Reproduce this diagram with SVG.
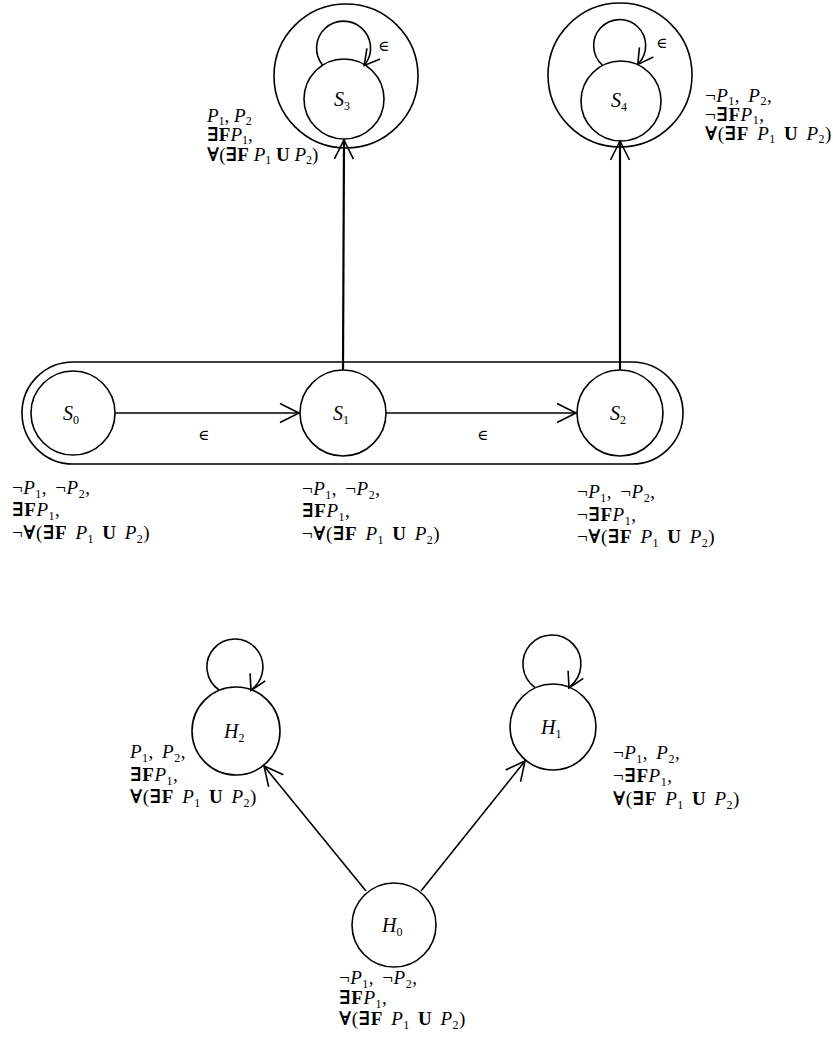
<svg xmlns="http://www.w3.org/2000/svg" width="833" height="1040" viewBox="0 0 833 1040">
<style>
  .n { fill: none; stroke: #000; stroke-width: 1.6; }
  .e { fill: none; stroke: #000; stroke-width: 1.6; }
  .ev { fill: none; stroke: #000; stroke-width: 2.2; }
  text { font-family: "Liberation Serif", "DejaVu Serif", serif; font-size: 19px; fill: #000; letter-spacing: 0.5px; word-spacing: 3px; }
  .tight text { letter-spacing: 0; word-spacing: 0; }
  .nm { font-size: 20px; letter-spacing: 0; }
  .i { font-style: italic; }
  .b { font-weight: bold; }
  .s { font-size: 12px; }
  .eps { font-size: 15px; }
</style>
<defs>
  <marker id="arr" markerUnits="userSpaceOnUse" overflow="visible" orient="auto" refX="0" refY="0" markerWidth="1" markerHeight="1">
    <path d="M-19,-9.5 L0,0 L-19,9.5" fill="none" stroke="#000" stroke-width="1.6"/>
  </marker>
  <marker id="arrL" markerUnits="userSpaceOnUse" overflow="visible" orient="auto" refX="0" refY="0" markerWidth="1" markerHeight="1">
    <path d="M-15,-8.5 L0,0 L-15,8.5" fill="none" stroke="#000" stroke-width="1.6"/>
  </marker>
</defs>
<rect width="833" height="1040" fill="#fff"/>

<g id="container">
  <rect class="n" x="22" y="362" width="661" height="102" rx="51" ry="51"/>
</g>

<g id="connectors">
  <line class="e" x1="115" y1="413" x2="299" y2="413" marker-end="url(#arr)"/>
  <line class="e" x1="386" y1="413" x2="576" y2="413" marker-end="url(#arr)"/>
  <line class="ev" x1="343" y1="370" x2="344" y2="140" marker-end="url(#arr)"/>
  <line class="ev" x1="620" y1="370" x2="620" y2="141" marker-end="url(#arr)"/>
  <path class="e" d="M322.5,65 A27,27 0 1 1 365,64.5 L364.2,65.5" marker-end="url(#arrL)"/>
  <path class="e" d="M602.4,65 A26,26 0 1 1 638.5,63.5 L637.8,64.5" marker-end="url(#arrL)"/>
  <path class="e" d="M219,690 A28,28 0 1 1 251.5,689.5 L251,690.5" marker-end="url(#arrL)"/>
  <path class="e" d="M535,687.5 A29,29 0 1 1 569.5,687 L569,688" marker-end="url(#arrL)"/>
  <line class="e" x1="366" y1="891" x2="264" y2="766" marker-end="url(#arr)"/>
  <line class="e" x1="421" y1="891" x2="525" y2="761" marker-end="url(#arr)"/>
  <text class="eps" x="198" y="440">∈</text>
  <text class="eps" x="477" y="440">∈</text>
  <text class="eps" x="378" y="51">∈</text>
  <text class="eps" x="656" y="48">∈</text>
</g>

<g id="S0">
  <circle class="n" cx="73" cy="413" r="42"/>
  <text class="nm" x="63" y="420"><tspan class="i">S</tspan><tspan class="s" dy="4">0</tspan></text>
  <text x="12" y="494">¬<tspan class="i">P</tspan><tspan class="s" dy="4">1</tspan><tspan dy="-4">, ¬</tspan><tspan class="i">P</tspan><tspan class="s" dy="4">2</tspan><tspan dy="-4">,</tspan></text>
  <text x="12" y="516"><tspan class="b">∃F</tspan><tspan class="i">P</tspan><tspan class="s" dy="4">1</tspan><tspan dy="-4">,</tspan></text>
  <text x="12" y="539">¬<tspan class="b">∀</tspan>(<tspan class="b">∃F</tspan> <tspan class="i">P</tspan><tspan class="s" dy="4">1</tspan><tspan dy="-4"> </tspan><tspan class="b">U</tspan> <tspan class="i">P</tspan><tspan class="s" dy="4">2</tspan><tspan dy="-4">)</tspan></text>
</g>

<g id="S1">
  <circle class="n" cx="343" cy="413" r="43"/>
  <text class="nm" x="333" y="420"><tspan class="i">S</tspan><tspan class="s" dy="4">1</tspan></text>
  <text x="302" y="495">¬<tspan class="i">P</tspan><tspan class="s" dy="4">1</tspan><tspan dy="-4">, ¬</tspan><tspan class="i">P</tspan><tspan class="s" dy="4">2</tspan><tspan dy="-4">,</tspan></text>
  <text x="302" y="517"><tspan class="b">∃F</tspan><tspan class="i">P</tspan><tspan class="s" dy="4">1</tspan><tspan dy="-4">,</tspan></text>
  <text x="302" y="540">¬<tspan class="b">∀</tspan>(<tspan class="b">∃F</tspan> <tspan class="i">P</tspan><tspan class="s" dy="4">1</tspan><tspan dy="-4"> </tspan><tspan class="b">U</tspan> <tspan class="i">P</tspan><tspan class="s" dy="4">2</tspan><tspan dy="-4">)</tspan></text>
</g>

<g id="S2">
  <circle class="n" cx="620" cy="413" r="43"/>
  <text class="nm" x="610" y="420"><tspan class="i">S</tspan><tspan class="s" dy="4">2</tspan></text>
  <text x="577" y="498">¬<tspan class="i">P</tspan><tspan class="s" dy="4">1</tspan><tspan dy="-4">, ¬</tspan><tspan class="i">P</tspan><tspan class="s" dy="4">2</tspan><tspan dy="-4">,</tspan></text>
  <text x="577" y="521">¬<tspan class="b">∃F</tspan><tspan class="i">P</tspan><tspan class="s" dy="4">1</tspan><tspan dy="-4">,</tspan></text>
  <text x="577" y="543">¬<tspan class="b">∀</tspan>(<tspan class="b">∃F</tspan> <tspan class="i">P</tspan><tspan class="s" dy="4">1</tspan><tspan dy="-4"> </tspan><tspan class="b">U</tspan> <tspan class="i">P</tspan><tspan class="s" dy="4">2</tspan><tspan dy="-4">)</tspan></text>
</g>

<g id="S3" class="tight">
  <circle class="n" cx="346" cy="76" r="72"/>
  <circle class="n" cx="344" cy="99" r="40"/>
  <text class="nm" x="334" y="106"><tspan class="i">S</tspan><tspan class="s" dy="4">3</tspan></text>
  <text x="207" y="122"><tspan class="i">P</tspan><tspan class="s" dy="3">1</tspan><tspan dy="-3">, </tspan><tspan class="i">P</tspan><tspan class="s" dy="3">2</tspan></text>
  <text x="207" y="141"><tspan class="b">∃F</tspan><tspan class="i">P</tspan><tspan class="s" dy="3">1</tspan><tspan dy="-3">,</tspan></text>
  <text x="207" y="161"><tspan class="b">∀</tspan>(<tspan class="b">∃F</tspan> <tspan class="i">P</tspan><tspan class="s" dy="3">1</tspan><tspan dy="-3"> </tspan><tspan class="b">U</tspan> <tspan class="i">P</tspan><tspan class="s" dy="3">2</tspan><tspan dy="-3">)</tspan></text>
</g>

<g id="S4">
  <circle class="n" cx="620" cy="75" r="72"/>
  <circle class="n" cx="621" cy="101" r="40"/>
  <text class="nm" x="611" y="107"><tspan class="i">S</tspan><tspan class="s" dy="4">4</tspan></text>
  <text x="705" y="102">¬<tspan class="i">P</tspan><tspan class="s" dy="3">1</tspan><tspan dy="-3">, </tspan><tspan class="i">P</tspan><tspan class="s" dy="3">2</tspan><tspan dy="-3">,</tspan></text>
  <text x="705" y="121">¬<tspan class="b">∃F</tspan><tspan class="i">P</tspan><tspan class="s" dy="3">1</tspan><tspan dy="-3">,</tspan></text>
  <text x="705" y="140"><tspan class="b">∀</tspan>(<tspan class="b">∃F</tspan> <tspan class="i">P</tspan><tspan class="s" dy="3">1</tspan><tspan dy="-3"> </tspan><tspan class="b">U</tspan> <tspan class="i">P</tspan><tspan class="s" dy="3">2</tspan><tspan dy="-3">)</tspan></text>
</g>

<g id="H2">
  <circle class="n" cx="236" cy="731" r="44"/>
  <text class="nm" x="224" y="738"><tspan class="i">H</tspan><tspan class="s" dy="4">2</tspan></text>
  <text x="130" y="758"><tspan class="i">P</tspan><tspan class="s" dy="4">1</tspan><tspan dy="-4">, </tspan><tspan class="i">P</tspan><tspan class="s" dy="4">2</tspan><tspan dy="-4">,</tspan></text>
  <text x="130" y="781"><tspan class="b">∃F</tspan><tspan class="i">P</tspan><tspan class="s" dy="4">1</tspan><tspan dy="-4">,</tspan></text>
  <text x="130" y="803"><tspan class="b">∀</tspan>(<tspan class="b">∃F</tspan> <tspan class="i">P</tspan><tspan class="s" dy="4">1</tspan><tspan dy="-4"> </tspan><tspan class="b">U</tspan> <tspan class="i">P</tspan><tspan class="s" dy="4">2</tspan><tspan dy="-4">)</tspan></text>
</g>

<g id="H1">
  <circle class="n" cx="553" cy="727" r="43"/>
  <text class="nm" x="541" y="734"><tspan class="i">H</tspan><tspan class="s" dy="4">1</tspan></text>
  <text x="613" y="759">¬<tspan class="i">P</tspan><tspan class="s" dy="4">1</tspan><tspan dy="-4">, </tspan><tspan class="i">P</tspan><tspan class="s" dy="4">2</tspan><tspan dy="-4">,</tspan></text>
  <text x="613" y="782">¬<tspan class="b">∃F</tspan><tspan class="i">P</tspan><tspan class="s" dy="4">1</tspan><tspan dy="-4">,</tspan></text>
  <text x="613" y="805"><tspan class="b">∀</tspan>(<tspan class="b">∃F</tspan> <tspan class="i">P</tspan><tspan class="s" dy="4">1</tspan><tspan dy="-4"> </tspan><tspan class="b">U</tspan> <tspan class="i">P</tspan><tspan class="s" dy="4">2</tspan><tspan dy="-4">)</tspan></text>
</g>

<g id="H0">
  <circle class="n" cx="394" cy="925" r="42"/>
  <text class="nm" x="382" y="932"><tspan class="i">H</tspan><tspan class="s" dy="4">0</tspan></text>
  <text x="339" y="984">¬<tspan class="i">P</tspan><tspan class="s" dy="4">1</tspan><tspan dy="-4">, ¬</tspan><tspan class="i">P</tspan><tspan class="s" dy="4">2</tspan><tspan dy="-4">,</tspan></text>
  <text x="339" y="1004"><tspan class="b">∃F</tspan><tspan class="i">P</tspan><tspan class="s" dy="4">1</tspan><tspan dy="-4">,</tspan></text>
  <text x="339" y="1025"><tspan class="b">∀</tspan>(<tspan class="b">∃F</tspan> <tspan class="i">P</tspan><tspan class="s" dy="4">1</tspan><tspan dy="-4"> </tspan><tspan class="b">U</tspan> <tspan class="i">P</tspan><tspan class="s" dy="4">2</tspan><tspan dy="-4">)</tspan></text>
</g>
</svg>
